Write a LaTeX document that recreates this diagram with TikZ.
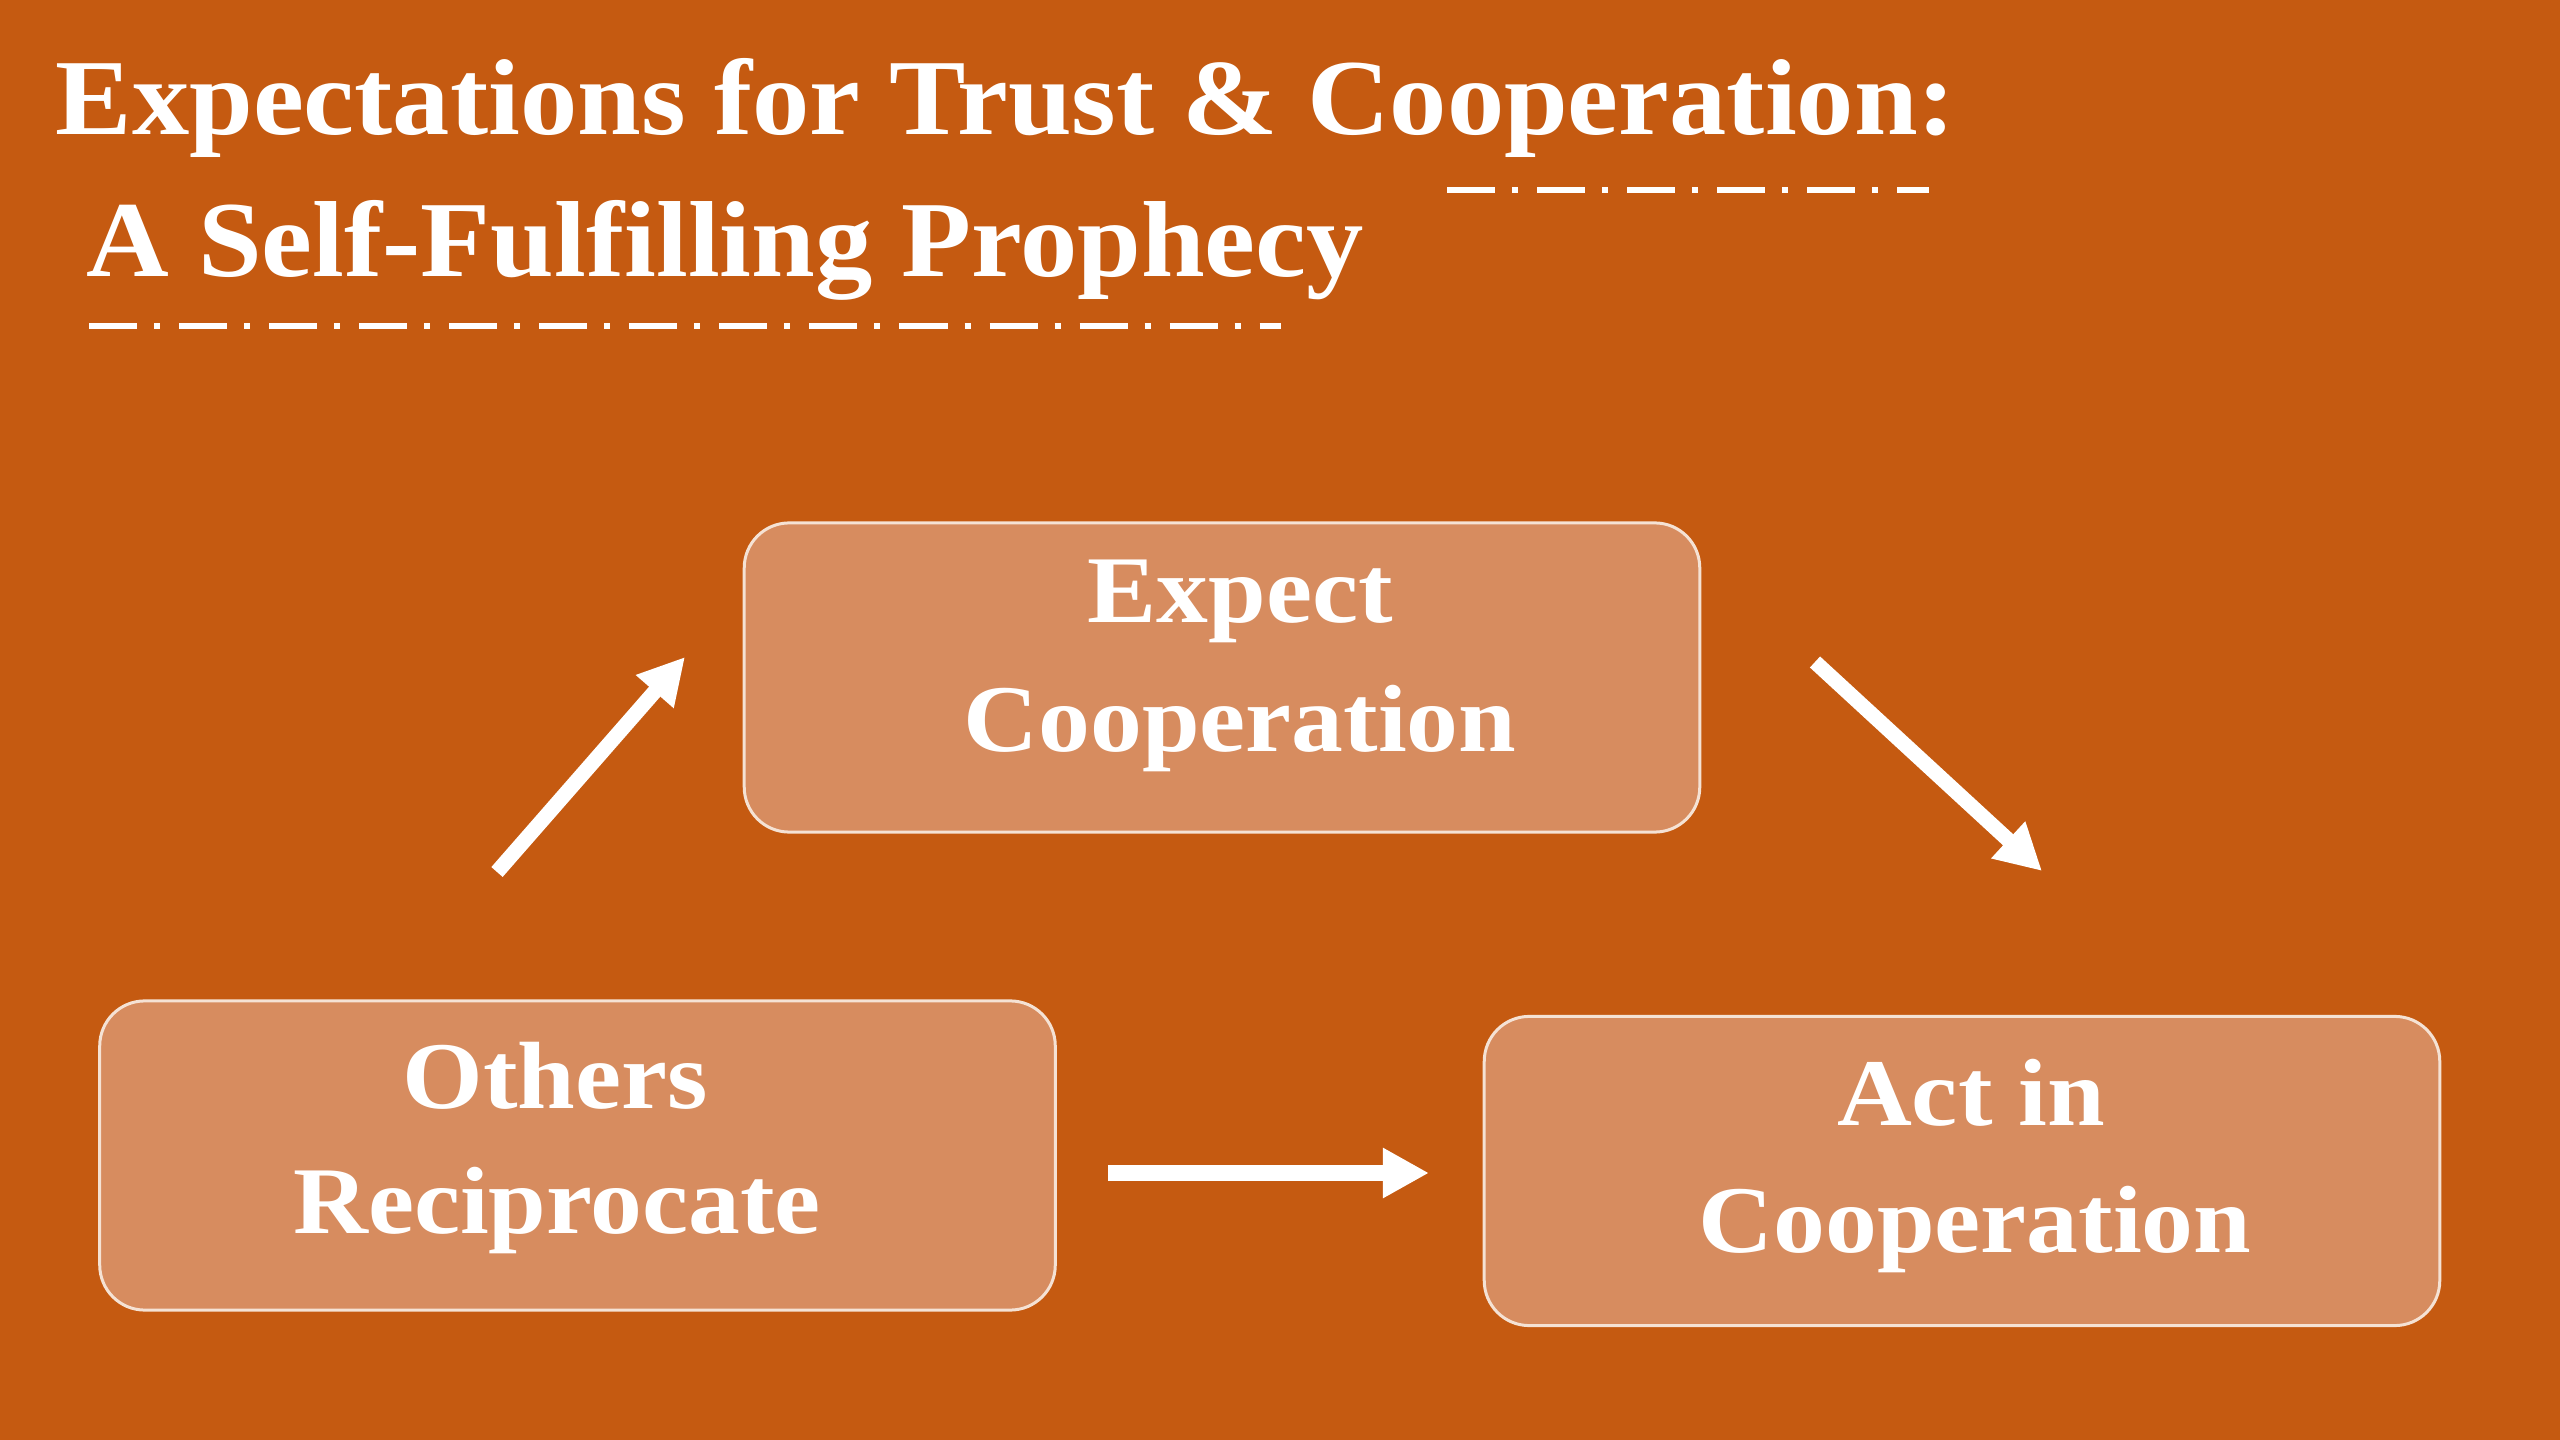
\documentclass[tikz,border=0pt]{standalone}
\usepackage{fontspec}
\setmainfont{Liberation Serif}
\newfontfamily\titlefont{Liberation Serif}[FakeStretch=1.06]
\newfontfamily\boxfont{Liberation Serif}[FakeStretch=1.085]
\usetikzlibrary{arrows.meta}
\definecolor{bg}{RGB}{197,90,17}
\definecolor{boxfill}{RGB}{215,140,95}
\definecolor{boxline}{RGB}{245,226,212}
\begin{document}
\begin{tikzpicture}[x=0.01cm,y=-0.01cm,
  titletext/.style={anchor=base west, inner sep=0pt, text=white,
    font=\titlefont\bfseries\fontsize{30.73pt}{36pt}\selectfont},
  stepbox/.style={draw=boxline, line width=0.03cm, fill=boxfill,
    rounded corners=0.45cm, minimum width=9.55cm, minimum height=3.09cm, inner sep=0pt},
  boxtext/.style={anchor=base, inner sep=0pt, text=white,
    font=\boxfont\bfseries\fontsize{27.17pt}{33pt}\selectfont},
  flowarrow/.style={draw=white, line width=0.15cm, -{Triangle[length=0.46cm,width=0.47cm]}},
  dashrule/.style={draw=white, line width=0.06cm,
    dash pattern=on 0.48cm off 0.17cm on 0.06cm off 0.19cm}
]
\fill[bg] (0,0) rectangle (2560,1440);
\useasboundingbox (0,0) rectangle (2560,1440);

% title
\node[titletext] (title1) at (55,135) {Expectations for Trust \& Cooperation:};
\node[titletext] (title2) at (86,277) {A Self-Fulfilling Prophecy};
\coordinate (u1a) at (1447,190);
\coordinate (u1b) at (1929,190);
\coordinate (u2a) at (89,326);
\coordinate (u2b) at (1281,326);
\draw[dashrule] (u1a) -- (u1b);
\draw[dashrule] (u2a) -- (u2b);

% boxes
\node[stepbox] (expect) at (1222,677.5) {};
\node[stepbox] (others) at (577.5,1155.5) {};
\node[stepbox] (act) at (1962,1171) {};

\node[boxtext] (expectA) at (1240,623) {Expect};
\node[boxtext] (expectB) at (1240,752) {Cooperation};
\node[boxtext] (othersA) at (555,1108) {Others};
\node[boxtext] (othersB) at (557,1233) {Reciprocate};
\node[boxtext] (actA) at (1971,1125) {Act in};
\node[boxtext] (actB) at (1975,1252) {Cooperation};

% arrows
\coordinate (a1s) at (497,872);
\coordinate (a1e) at (685,657);
\coordinate (a2s) at (1815,662);
\coordinate (a2e) at (2042,871);
\coordinate (a3s) at (1108,1173);
\coordinate (a3e) at (1429,1173);
\draw[flowarrow] (a1s) -- (a1e);
\draw[flowarrow] (a2s) -- (a2e);
\draw[flowarrow] (a3s) -- (a3e);
\end{tikzpicture}
\end{document}
